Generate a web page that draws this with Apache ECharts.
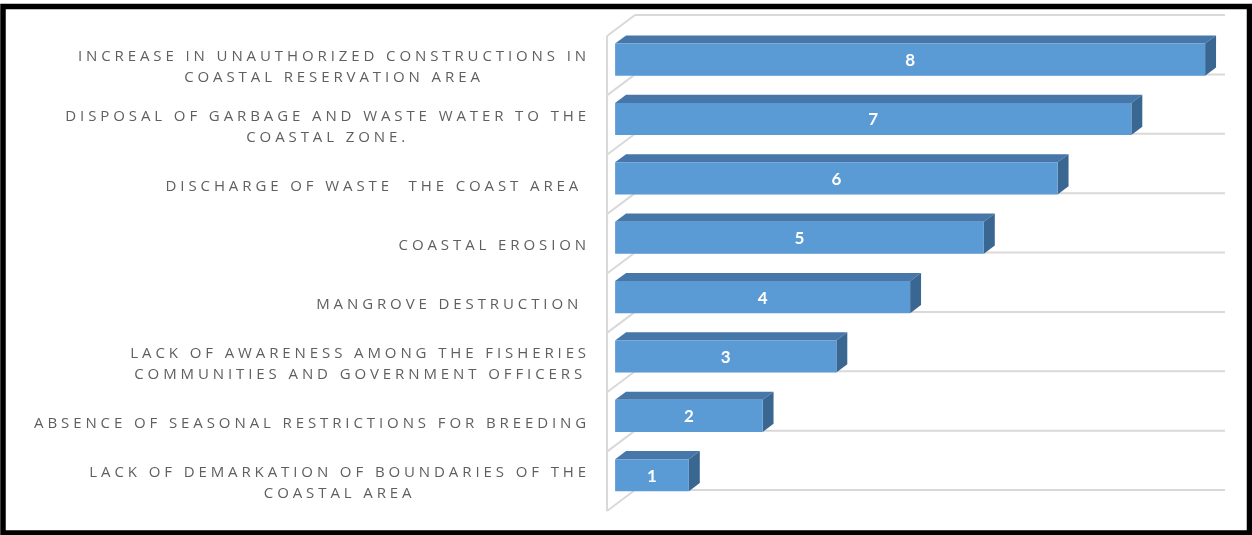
<!DOCTYPE html>
<html>
<head>
<meta charset="utf-8">
<script src="https://cdn.jsdelivr.net/npm/echarts@6/dist/echarts.min.js"></script>
<style>
  html, body { margin: 0; padding: 0; background: #fff; }
  #chart { width: 1252px; height: 535px; }
</style>
</head>
<body>
<div id="chart"></div>
<script>
// Problems reported for the coastal zone, ranked
const categories = [
  'INCREASE IN UNAUTHORIZED CONSTRUCTIONS IN\nCOASTAL RESERVATION AREA',
  'DISPOSAL OF GARBAGE AND WASTE WATER TO THE\nCOASTAL ZONE.',
  'DISCHARGE OF WASTE  THE COAST AREA ',
  'COASTAL EROSION',
  'MANGROVE DESTRUCTION ',
  'LACK OF AWARENESS AMONG THE FISHERIES\nCOMMUNITIES AND GOVERNMENT OFFICERS',
  'ABSENCE OF SEASONAL RESTRICTIONS FOR BREEDING',
  'LACK OF DEMARKATION OF BOUNDARIES OF THE\nCOASTAL AREA'
];
const ranks = [8, 7, 6, 5, 4, 3, 2, 1];
const axisMax = 8;

// Label styling
const LABEL_FONT = 'Open Sans';
const LABEL_SPACING = '3.9px';

// Tracked (letter-spaced) category labels: canvas letterSpacing applied to the label font only,
// for both measuring and drawing so the layout stays consistent.
(function () {
  const P = CanvasRenderingContext2D.prototype;
  ['fillText', 'strokeText', 'measureText'].forEach(function (fn) {
    const orig = P[fn];
    P[fn] = function () {
      if ('letterSpacing' in this) {
        this.letterSpacing = this.font.indexOf(LABEL_FONT) >= 0 ? LABEL_SPACING : '0px';
      }
      return orig.apply(this, arguments);
    };
  });
})();

// Pseudo-3D geometry: depth vector from the front wall plane to the back wall plane,
// and the depth slots occupied by the bars.
const DEPTH = [28, -21];
const BAR_FRONT = 0.29;
const BAR_BACK = 0.68;
const BAR_RATIO = 0.54;

const WALL_COLOR = '#d9d9d9';
const FRONT_COLOR = '#5b9bd5';
const TOP_COLOR = '#4677a8';
const SIDE_COLOR = '#3a6792';

const chart = echarts.init(document.getElementById('chart'), null, { renderer: 'canvas' });

function renderWalls(params, api) {
  const i = api.value(1);
  const band = api.size([0, 1])[1];
  const p0 = api.coord([0, i]);
  const p1 = api.coord([axisMax, i]);
  const yTop = p0[1] - band / 2;
  const yBot = p0[1] + band / 2;
  const ls = { stroke: WALL_COLOR, lineWidth: 2 };
  const children = [];
  const boundary = function (y) {
    children.push({ type: 'line', shape: { x1: p0[0] + DEPTH[0], y1: y + DEPTH[1], x2: p1[0] + DEPTH[0], y2: y + DEPTH[1] }, style: ls });
    children.push({ type: 'line', shape: { x1: p0[0], y1: y, x2: p0[0] + DEPTH[0], y2: y + DEPTH[1] }, style: ls });
  };
  boundary(yTop);
  if (params.dataIndex === params.dataInsideLength - 1) boundary(yBot);
  children.push({ type: 'line', shape: { x1: p0[0], y1: yTop, x2: p0[0], y2: yBot }, style: ls });
  return { type: 'group', children: children };
}

function renderBar(params, api) {
  const v = api.value(0);
  const i = api.value(1);
  const band = api.size([0, 1])[1];
  const a = api.coord([0, i]);
  const b = api.coord([v, i]);
  const fx = DEPTH[0] * BAR_FRONT, fy = DEPTH[1] * BAR_FRONT;
  const dx = DEPTH[0] * (BAR_BACK - BAR_FRONT), dy = DEPTH[1] * (BAR_BACK - BAR_FRONT);
  const x0 = a[0] + fx, x1 = b[0] + fx;
  const h = band * BAR_RATIO;
  const yT = a[1] + fy - h / 2, yB = a[1] + fy + h / 2;
  return {
    type: 'group',
    children: [
      { type: 'polygon', shape: { points: [[x0, yT], [x1, yT], [x1 + dx, yT + dy], [x0 + dx, yT + dy]] }, style: { fill: TOP_COLOR } },
      { type: 'polygon', shape: { points: [[x1, yT], [x1 + dx, yT + dy], [x1 + dx, yB + dy], [x1, yB]] }, style: { fill: SIDE_COLOR } },
      { type: 'rect', shape: { x: x0, y: yT, width: x1 - x0, height: h }, style: { fill: FRONT_COLOR } },
      {
        type: 'text',
        style: {
          text: String(v), x: (x0 + x1) / 2, y: (yT + yB) / 2 + 1,
          align: 'center', verticalAlign: 'middle',
          fill: '#ffffff', font: 'bold 17px Lato'
        }
      }
    ]
  };
}

chart.setOption({
  animation: false,
  backgroundColor: '#ffffff',
  grid: { left: 607, right: 55, top: 36, bottom: 24 },
  xAxis: {
    type: 'value', min: 0, max: axisMax,
    axisLine: { show: false }, axisTick: { show: false },
    axisLabel: { show: false }, splitLine: { show: false }
  },
  yAxis: {
    type: 'category', inverse: true, data: categories,
    axisLine: { show: false }, axisTick: { show: false }, splitLine: { show: false },
    axisLabel: {
      interval: 0, margin: 17, align: 'right', padding: [4, 0, 0, 0],
      fontFamily: LABEL_FONT, fontSize: 15, color: '#5f5f5f',
      formatter: function (val) {
        return val.split('\n').map(function (s) { return '{c|' + s + '}'; }).join('\n');
      },
      rich: { c: { align: 'center', fontFamily: LABEL_FONT, fontSize: 15, color: '#5f5f5f', lineHeight: 21 } }
    }
  },
  graphic: [{
    type: 'rect', silent: true, z: 100,
    shape: { x: 3, y: 6.5, width: 1246.5, height: 526.5 },
    style: { fill: 'none', stroke: '#000000', lineWidth: 5.5 }
  }],
  series: [
    {
      type: 'custom', name: 'walls', silent: true, z: 1,
      renderItem: renderWalls,
      encode: { x: 0, y: 1 },
      data: categories.map(function (c, i) { return [0, i]; })
    },
    {
      type: 'custom', name: 'rank', z: 2,
      renderItem: renderBar,
      encode: { x: 0, y: 1 },
      data: ranks.map(function (v, i) { return [v, i]; })
    }
  ]
});
</script>
</body>
</html>
